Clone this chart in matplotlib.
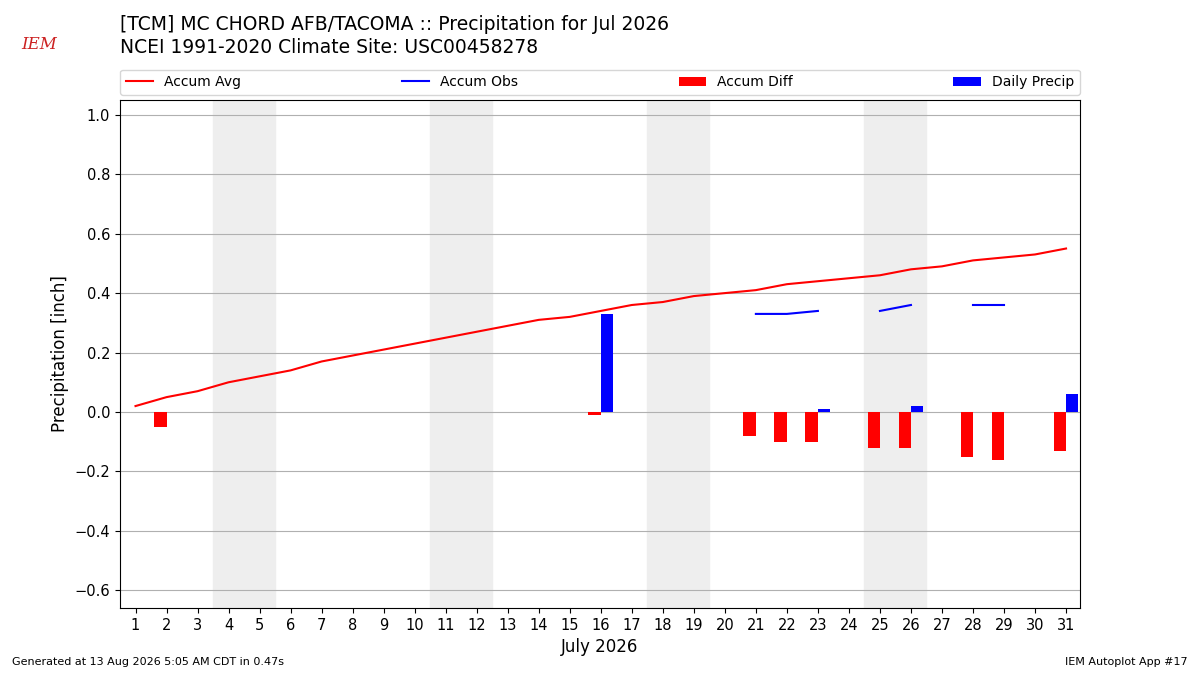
import numpy as np
import matplotlib
matplotlib.use("Agg")
import matplotlib.pyplot as plt

days = np.arange(1, 32)
accum_avg = [0.02, 0.05, 0.07, 0.10, 0.12, 0.14, 0.17, 0.19, 0.21, 0.23, 0.25,
             0.27, 0.29, 0.31, 0.32, 0.34, 0.36, 0.37, 0.39, 0.40, 0.41, 0.43,
             0.44, 0.45, 0.46, 0.48, 0.49, 0.51, 0.52, 0.53, 0.55]
nan = np.nan
accum_obs = [nan] * 20 + [0.33, 0.33, 0.34, nan, 0.34, 0.36, nan, 0.36, 0.36, nan, nan]
diff_days = [2, 16, 21, 22, 23, 25, 26, 28, 29, 31]
diff_vals = [-0.05, -0.01, -0.08, -0.10, -0.10, -0.12, -0.12, -0.15, -0.16, -0.13]
precip_days = [16, 23, 26, 31]
precip_vals = [0.33, 0.01, 0.02, 0.06]
weekends = [(3.5, 5.5), (10.5, 12.5), (17.5, 19.5), (24.5, 26.5)]

fig = plt.figure(figsize=(12, 6.75), dpi=100)
ax = fig.add_axes([0.1, 0.099, 0.8, 0.753])

for a, b in weekends:
    ax.axvspan(a, b, color="#eeeeee", zorder=0)

ax.plot(days, accum_avg, color="red", label="Accum Avg", zorder=3)
ax.plot(days, accum_obs, color="blue", label="Accum Obs", zorder=3)
ax.bar(np.array(diff_days) - 0.2, diff_vals, width=0.4, color="red",
       label="Accum Diff", zorder=3)
ax.bar(np.array(precip_days) + 0.2, precip_vals, width=0.4, color="blue",
       label="Daily Precip", zorder=3)

ax.set_xlim(0.5, 31.45)
ax.set_ylim(-0.66, 1.05)
ax.set_xticks(days)
ax.set_yticks(np.arange(-0.6, 1.01, 0.2))
ax.yaxis.grid(True, color="#b0b0b0")
ax.set_axisbelow(True)
ax.set_xlabel("July 2026", fontsize=12)
ax.set_ylabel("Precipitation [inch]", fontsize=12)
ax.tick_params(labelsize=10.5)

ax.legend(loc="lower left", bbox_to_anchor=(0, 1.01, 1, 0.1), ncol=4,
          mode="expand", borderaxespad=0, fontsize=10)

fig.text(0.1, 0.964, "[TCM] MC CHORD AFB/TACOMA :: Precipitation for Jul 2026",
         fontsize=13.5, va="center")
fig.text(0.1, 0.930, "NCEI 1991-2020 Climate Site: USC00458278",
         fontsize=13.5, va="center")
fig.text(0.018, 0.934, "IEM", fontsize=12, color="#cc2222", style="italic",
         family="DejaVu Serif", va="center")
fig.text(0.01, 0.015, "Generated at 13 Aug 2026 5:05 AM CDT in 0.47s", fontsize=8)
fig.text(0.99, 0.015, "IEM Autoplot App #17", fontsize=8, ha="right")

fig.savefig("out.png")
